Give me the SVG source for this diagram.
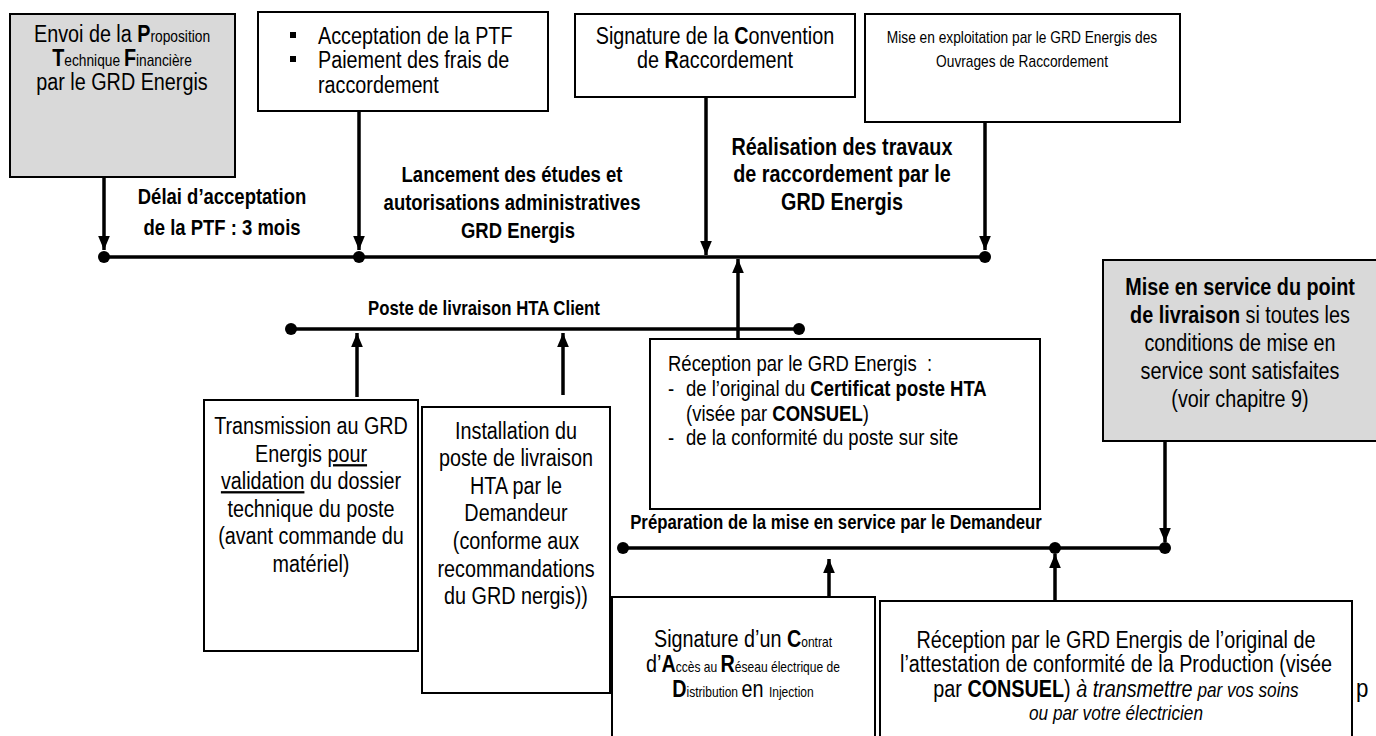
<svg xmlns="http://www.w3.org/2000/svg" width="1376" height="736" viewBox="0 0 1376 736">
<style>
.box{fill:#fff;stroke:#000;stroke-width:2}
.gray{fill:#d9d9d9}
.ln{stroke:#000;stroke-width:3.5;fill:none}
.arr{stroke:#000;stroke-width:3.5;fill:none;marker-end:url(#ah)}
.dot{fill:#000}
text{font-family:"Liberation Sans",Arial,sans-serif;font-size:23px;fill:#000}
.c{text-anchor:middle}
.b{font-weight:bold}
.lb{font-weight:bold;font-size:21.5px}
.lp{font-weight:bold;font-size:19.5px}
.s{font-size:16px}
.sm{font-size:14px}
.i{font-style:italic}
.u{text-decoration:underline}
</style>
<defs>
<marker id="ah" viewBox="0 0 12 10" refX="12" refY="5" markerWidth="4" markerHeight="3.4" orient="auto" markerUnits="strokeWidth">
<path d="M0,0 L12,5 L0,10 z" fill="#000"/>
</marker>
</defs>
<rect width="1376" height="736" fill="#fff"/>

<g id="connectors">
<path class="ln" d="M104,257 H985"/>
<path class="arr" d="M104,177 V250"/>
<path class="arr" d="M359,111 V250"/>
<path class="arr" d="M706,97 V255"/>
<path class="arr" d="M985,122 V250"/>
<path class="arr" d="M738,339 V259"/>
<circle class="dot" cx="104" cy="257" r="6"/>
<circle class="dot" cx="359" cy="257" r="6"/>
<circle class="dot" cx="985" cy="257" r="6"/>
<path class="ln" d="M291,329 H799"/>
<circle class="dot" cx="291" cy="329" r="6"/>
<circle class="dot" cx="799" cy="329" r="6"/>
<path class="arr" d="M357,397 V333"/>
<path class="arr" d="M563,395 V333"/>
<path class="ln" d="M623,548 H1165"/>
<circle class="dot" cx="623" cy="548" r="6"/>
<circle class="dot" cx="1055" cy="548" r="6"/>
<circle class="dot" cx="1165" cy="548" r="6"/>
<path class="arr" d="M829,608 V559"/>
<path class="arr" d="M1055,601 V554"/>
<path class="arr" d="M1165,441 V542"/>
</g>

<g id="labels">
<text class="c lb" transform="translate(222,204) scale(.86,1)">Délai d’acceptation</text>
<text class="c lb" transform="translate(222,235) scale(.86,1)">de la PTF : 3 mois</text>
<text class="c lb" transform="translate(512,182) scale(.86,1)">Lancement des études et</text>
<text class="c lb" transform="translate(512,210) scale(.86,1)">autorisations administratives</text>
<text class="c lb" transform="translate(518,238) scale(.86,1)">GRD Energis</text>
<text class="c b" transform="translate(842,155) scale(.86,1)">Réalisation des travaux</text>
<text class="c b" transform="translate(842,182) scale(.86,1)">de raccordement par le</text>
<text class="c b" transform="translate(842,210) scale(.86,1)">GRD Energis</text>
<text class="c lp" transform="translate(484,315) scale(.86,1)">Poste de livraison HTA Client</text>
<text class="c lp" transform="translate(836,529) scale(.86,1)">Préparation de la mise en service par le Demandeur</text>
</g>

<g id="n-ptf">
<rect class="box gray" x="10" y="14" width="225" height="163"/>
<text class="c" transform="translate(122,42) scale(.86,1)">Envoi de la <tspan class="b">P</tspan><tspan class="s">roposition</tspan></text>
<text class="c" transform="translate(122,66) scale(.86,1)"><tspan class="b">T</tspan><tspan class="s">echnique </tspan><tspan class="b">F</tspan><tspan class="s">inancière</tspan></text>
<text class="c" transform="translate(122,90) scale(.86,1)">par le GRD Energis</text>
</g>

<g id="n-acceptation">
<rect class="box" x="258" y="12" width="290" height="99"/>
<rect x="290" y="32" width="6" height="6" fill="#000"/>
<rect x="290" y="56" width="6" height="6" fill="#000"/>
<text transform="translate(318,44) scale(.86,1)">Acceptation de la PTF</text>
<text transform="translate(318,68) scale(.86,1)">Paiement des frais de</text>
<text transform="translate(318,93) scale(.86,1)">raccordement</text>
</g>

<g id="n-convention">
<rect class="box" x="575" y="14" width="280" height="83"/>
<text class="c" transform="translate(715,44) scale(.86,1)">Signature de la <tspan class="b">C</tspan>onvention</text>
<text class="c" transform="translate(715,68) scale(.86,1)">de <tspan class="b">R</tspan>accordement</text>
</g>

<g id="n-exploitation">
<rect class="box" x="865" y="14" width="315" height="108"/>
<text class="c" transform="translate(1022,43) scale(.86,1)" style="font-size:16px">Mise en exploitation par le GRD Energis des</text>
<text class="c" transform="translate(1022,67) scale(.86,1)" style="font-size:16px">Ouvrages de Raccordement</text>
</g>

<g id="n-transmission">
<rect class="box" x="204" y="400" width="214" height="251"/>
<text class="c" transform="translate(311,434) scale(.86,1)">Transmission au GRD</text>
<text class="c" transform="translate(311,462) scale(.86,1)">Energis <tspan class="u">pour</tspan></text>
<text class="c" transform="translate(311,489) scale(.86,1)"><tspan class="u">validation</tspan> du dossier</text>
<text class="c" transform="translate(311,517) scale(.86,1)">technique du poste</text>
<text class="c" transform="translate(311,544) scale(.86,1)">(avant commande du</text>
<text class="c" transform="translate(311,572) scale(.86,1)">matériel)</text>
</g>

<g id="n-installation">
<rect class="box" x="422" y="407" width="188" height="286"/>
<text class="c" transform="translate(516,439) scale(.86,1)">Installation du</text>
<text class="c" transform="translate(516,466) scale(.86,1)">poste de livraison</text>
<text class="c" transform="translate(516,494) scale(.86,1)">HTA par le</text>
<text class="c" transform="translate(516,521) scale(.86,1)">Demandeur</text>
<text class="c" transform="translate(516,549) scale(.86,1)">(conforme aux</text>
<text class="c" transform="translate(516,577) scale(.86,1)">recommandations</text>
<text class="c" transform="translate(516,604) scale(.86,1)">du GRD nergis))</text>
</g>

<g id="n-reception-poste">
<rect class="box" x="650" y="339" width="390" height="170"/>
<text transform="translate(668,371) scale(.86,1)" style="font-size:21.5px">Réception par le GRD Energis&#160; :</text>
<text transform="translate(668,396) scale(.86,1)" style="font-size:21.5px">-</text>
<text transform="translate(686,396) scale(.86,1)" style="font-size:21.5px">de l’original du <tspan class="b">Certificat poste HTA</tspan></text>
<text transform="translate(686,421) scale(.86,1)" style="font-size:21.5px">(visée par <tspan class="b">CONSUEL</tspan>)</text>
<text transform="translate(668,445) scale(.86,1)" style="font-size:21.5px">-</text>
<text transform="translate(686,445) scale(.86,1)" style="font-size:21.5px">de la conformité du poste sur site</text>
</g>

<g id="n-mise-en-service">
<rect class="box gray" x="1103" y="260" width="285" height="181"/>
<text class="c b" transform="translate(1240,295) scale(.86,1)">Mise en service du point</text>
<text class="c" transform="translate(1240,323) scale(.86,1)"><tspan class="b">de livraison</tspan> si toutes les</text>
<text class="c" transform="translate(1240,351) scale(.86,1)">conditions de mise en</text>
<text class="c" transform="translate(1240,379) scale(.86,1)">service sont satisfaites</text>
<text class="c" transform="translate(1240,407) scale(.86,1)">(voir chapitre 9)</text>
</g>

<g id="n-card">
<rect class="box" x="612" y="597" width="263" height="160"/>
<text class="c" transform="translate(743,647) scale(.86,1)">Signature d’un <tspan class="b">C</tspan><tspan class="sm">ontrat</tspan></text>
<text class="c" transform="translate(743,672) scale(.86,1)">d’<tspan class="b">A</tspan><tspan class="sm">ccès au </tspan><tspan class="b">R</tspan><tspan class="sm">éseau électrique de</tspan></text>
<text class="c" transform="translate(743,697) scale(.86,1)"><tspan class="b">D</tspan><tspan class="sm">istribution </tspan>en <tspan class="sm">Injection</tspan></text>
</g>

<g id="n-reception-production">
<rect class="box" x="880" y="601" width="472" height="160"/>
<text class="c" transform="translate(1116,648) scale(.86,1)">Réception par le GRD Energis de l’original de</text>
<text class="c" transform="translate(1116,672) scale(.86,1)">l’attestation de conformité de la Production (visée</text>
<text class="c" transform="translate(1116,697) scale(.86,1)">par <tspan class="b">CONSUEL</tspan>) <tspan class="i">à transmettre</tspan><tspan class="i" style="font-size:20px"> par vos soins</tspan></text>
<text class="c i" transform="translate(1116,720) scale(.86,1)" style="font-size:20px">ou par votre électricien</text>
</g>

<g id="fragment">
<text transform="translate(1356,697) scale(.86,1)" style="font-size:26px">p</text>
</g>
</svg>
